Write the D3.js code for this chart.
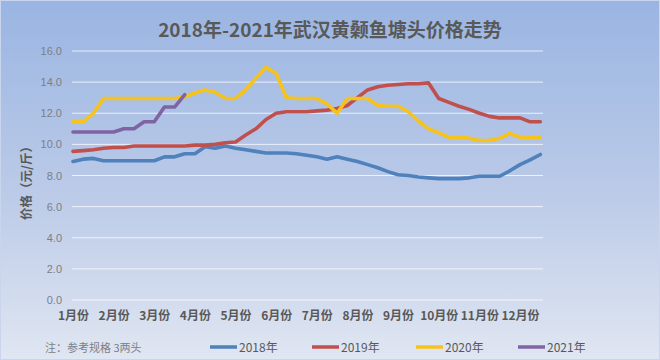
<!DOCTYPE html>
<html>
<head>
<meta charset="utf-8">
<script src="https://cdn.jsdelivr.net/npm/d3@7"></script>
<style>
  html, body { margin: 0; padding: 0; background: #fff; }
  svg { display: block; }
</style>
</head>
<body>
<svg id="chart" width="660" height="360"></svg>
<script>
// ---- data ----
const months = ["1月份","2月份","3月份","4月份","5月份","6月份","7月份","8月份","9月份","10月份","11月份","12月份"];
const yTicks = [0, 2, 4, 6, 8, 10, 12, 14, 16];
const seriesNames = ["2018年", "2019年", "2020年", "2021年"];
// weekly samples (4 per month), starting at the beginning of January
const price2018 = [8.9, 9.05, 9.1, 8.95, 8.95, 8.95, 8.95, 8.95, 8.95, 9.2, 9.2, 9.4, 9.4, 9.85, 9.75, 9.9,
  9.75, 9.65, 9.55, 9.45, 9.45, 9.45, 9.4, 9.3, 9.2, 9.05, 9.2, 9.05, 8.9, 8.7, 8.5, 8.25,
  8.05, 8.0, 7.9, 7.85, 7.8, 7.8, 7.8, 7.85, 7.95, 7.95, 7.95, 8.3, 8.7, 9.0, 9.35];
const price2019 = [9.55, 9.6, 9.65, 9.75, 9.8, 9.8, 9.9, 9.9, 9.9, 9.9, 9.9, 9.9, 9.95, 9.95, 10.0, 10.1,
  10.15, 10.6, 11.0, 11.6, 12.0, 12.1, 12.1, 12.1, 12.15, 12.2, 12.3, 12.5, 13.0, 13.5, 13.7, 13.8,
  13.85, 13.9, 13.9, 13.95, 12.95, 12.7, 12.45, 12.25, 12.0, 11.8, 11.7, 11.7, 11.7, 11.45, 11.45];
const price2020 = [11.45, 11.45, 12.0, 12.95, 12.95, 12.95, 12.95, 12.95, 12.95, 12.95, 12.95, 13.05, 13.3, 13.5, 13.35, 12.95,
  12.95, 13.5, 14.25, 14.95, 14.55, 13.0, 12.95, 12.95, 12.95, 12.6, 12.0, 12.95, 12.95, 12.95, 12.5, 12.45,
  12.45, 12.1, 11.5, 11.0, 10.75, 10.45, 10.45, 10.4, 10.25, 10.25, 10.4, 10.7, 10.45, 10.45, 10.45];
const price2021 = [10.8, 10.8, 10.8, 10.8, 10.8, 11.0, 11.0, 11.45, 11.45, 12.4, 12.4, 13.2];
const seriesData = [price2018, price2019, price2020, price2021];
const colors = ["#4f81bd", "#c0504d", "#f6c31c", "#8064a2"];

// ---- drawing ----
const svg = d3.select("#chart");
const W = 660, H = 360;

const defs = svg.append("defs");
const grad = defs.append("linearGradient").attr("id", "bg").attr("x1", 0).attr("y1", 0).attr("x2", 0).attr("y2", 1);
grad.append("stop").attr("offset", "0%").attr("stop-color", "#9ab5e2");
grad.append("stop").attr("offset", "55%").attr("stop-color", "#bccbe8");
grad.append("stop").attr("offset", "100%").attr("stop-color", "#e0e6f2");

svg.append("rect").attr("x", 0.5).attr("y", 0.5).attr("width", W - 1).attr("height", H - 1)
  .attr("fill", "url(#bg)").attr("stroke", "#c9d5ec").attr("stroke-width", 1);

const x = d3.scaleLinear().domain([0, 11]).range([73, 520]);
const y = d3.scaleLinear().domain([0, 16]).range([300, 51]);
const plotLeft = 72, plotRight = 543;

// gridlines
svg.append("g").selectAll("line").data(yTicks).join("line")
  .attr("x1", plotLeft).attr("x2", plotRight)
  .attr("y1", d => y(d)).attr("y2", d => y(d))
  .attr("stroke", "#ffffff").attr("stroke-opacity", 0.75).attr("stroke-width", 1);

// y axis
const yAxis = svg.append("g").attr("transform", `translate(${plotLeft - 6},0)`)
  .call(d3.axisLeft(y).tickValues(yTicks).tickFormat(d3.format(".1f")).tickSize(0));
yAxis.select(".domain").remove();
yAxis.selectAll("text").attr("fill", "#7a7f88").attr("font-size", 11)
  .attr("font-family", "Liberation Sans, Arial, sans-serif").attr("dx", -1);

// x axis
const xAxis = svg.append("g").attr("transform", `translate(0,${y(0) + 8})`)
  .call(d3.axisBottom(x).tickValues(d3.range(months.length)).tickFormat(i => months[i]).tickSize(0));
xAxis.select(".domain").remove();
xAxis.selectAll("text").attr("fill", "#595959").attr("font-size", 12).attr("font-weight", "bold")
  .attr("font-family", "Noto Sans CJK SC, sans-serif");

// y title
svg.append("text").attr("transform", `translate(31,180) rotate(-90)`)
  .attr("text-anchor", "middle").attr("fill", "#595959").attr("font-size", 12.5).attr("font-weight", "bold")
  .attr("font-family", "Noto Sans CJK SC, sans-serif").text("价格（元/斤）");

// title
svg.append("text").attr("x", 330).attr("y", 37).attr("text-anchor", "middle")
  .attr("fill", "#595959").attr("font-size", 19).attr("font-weight", "bold")
  .attr("font-family", "Noto Sans CJK SC, sans-serif").text("2018年-2021年武汉黄颡鱼塘头价格走势");

// lines
const line = d3.line().x((d, i) => x(i / 4)).y(d => y(d));
svg.append("g").selectAll("path").data(seriesData).join("path")
  .attr("d", d => line(d))
  .attr("fill", "none")
  .attr("stroke", (d, i) => colors[i])
  .attr("stroke-width", 3.6)
  .attr("stroke-linejoin", "round")
  .attr("stroke-linecap", "round");

// note
svg.append("text").attr("x", 45).attr("y", 352).attr("fill", "#7a7f88").attr("font-size", 11)
  .attr("font-family", "Noto Sans CJK SC, sans-serif").text("注：参考规格  3两头");

// legend
const legendX = [210, 312, 416, 518];
const lg = svg.append("g").selectAll("g").data(seriesNames).join("g")
  .attr("transform", (d, i) => `translate(${legendX[i]},347)`);
lg.append("line").attr("x1", 0).attr("x2", 27).attr("y1", 0).attr("y2", 0)
  .attr("stroke", (d, i) => colors[i]).attr("stroke-width", 3.5);
lg.append("text").attr("x", 29).attr("y", 4.5).attr("fill", "#595959").attr("font-size", 12)
  .attr("font-family", "Noto Sans CJK SC, sans-serif").text(d => d);
</script>
</body>
</html>
